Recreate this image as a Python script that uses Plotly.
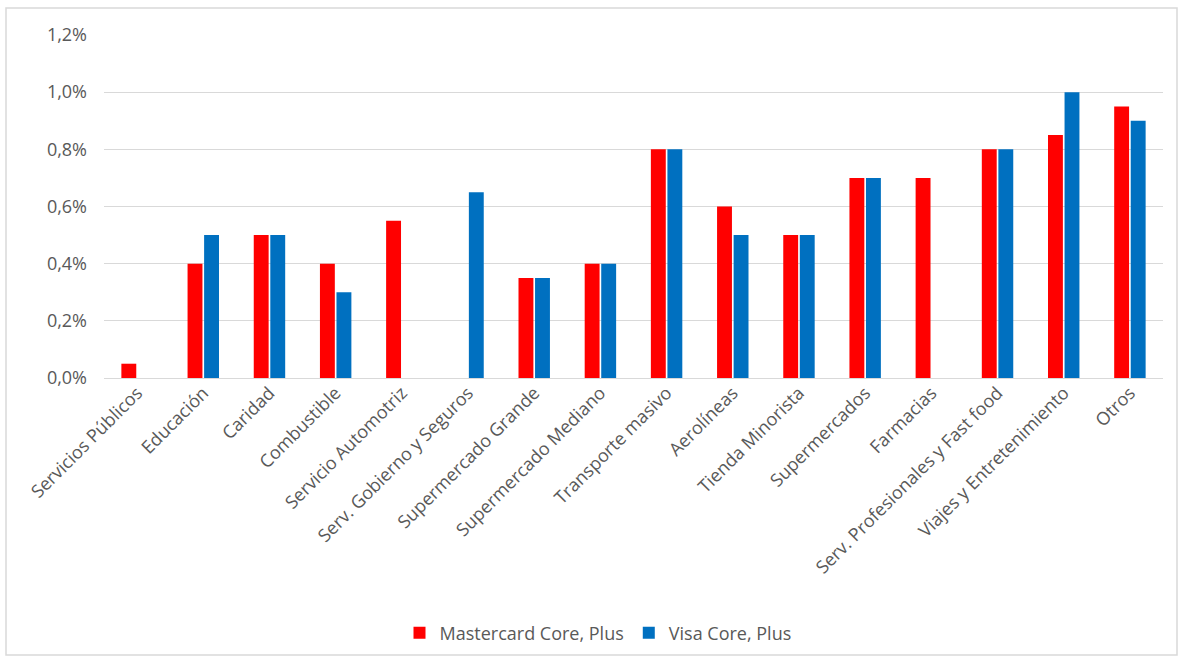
import plotly.graph_objects as go

categories = ["Servicios Públicos", "Educación", "Caridad", "Combustible", "Servicio Automotriz",
              "Serv. Gobierno y Seguros", "Supermercado Grande", "Supermercado Mediano",
              "Transporte masivo", "Aerolíneas", "Tienda Minorista", "Supermercados",
              "Farmacias", "Serv. Profesionales y Fast food", "Viajes y Entretenimiento", "Otros"]
mastercard = [0.05, 0.40, 0.50, 0.40, 0.55, None, 0.35, 0.40, 0.80, 0.60, 0.50, 0.70, 0.70, 0.80, 0.85, 0.95]
visa = [None, 0.50, 0.50, 0.30, None, 0.65, 0.35, 0.40, 0.80, 0.50, 0.50, 0.70, None, 0.80, 1.00, 0.90]
y_ticks = [0.0, 0.2, 0.4, 0.6, 0.8, 1.0, 1.2]
y_tick_labels = ["0,0%", "0,2%", "0,4%", "0,6%", "0,8%", "1,0%", "1,2%"]

FONT = "Open Sans"
GRAY = "#595959"

fig = go.Figure()
fig.add_trace(go.Bar(x=categories, y=mastercard, name="Mastercard Core, Plus",
                     marker=dict(color="#FF0000", line=dict(width=0))))
fig.add_trace(go.Bar(x=categories, y=visa, name="Visa Core, Plus",
                     marker=dict(color="#0070C0", line=dict(width=0))))

W, H = 1182, 663
L, R, T, B = 104, 19, 35, 285
pw, ph = W - L - R, H - T - B

def px(x):
    return (x - L) / pw

def py(y):
    return (H - B - y) / ph

fig.update_layout(
    width=W, height=H,
    margin=dict(l=L, r=R, t=T, b=B),
    paper_bgcolor="white", plot_bgcolor="white",
    barmode="group", bargap=0.5, bargroupgap=0.1,
    font=dict(family=FONT, color=GRAY, size=18),
    showlegend=True,
    legend=dict(orientation="h", x=px(598), xanchor="center", y=py(633), yanchor="middle",
                font=dict(size=18, color=GRAY), itemwidth=30, tracegroupgap=0),
    xaxis=dict(tickangle=-45, showgrid=False, showline=False, ticks="",
               tickfont=dict(size=18, color=GRAY), automargin=False),
    yaxis=dict(range=[0, 1.2], tickvals=y_ticks, ticktext=y_tick_labels,
               showgrid=True, gridcolor="#d9d9d9", gridwidth=1,
               zeroline=True, zerolinecolor="#d9d9d9", zerolinewidth=1,
               showline=False, ticks="", ticklen=0, ticklabelstandoff=16,
               tickfont=dict(size=18, color=GRAY), automargin=False),
    shapes=[dict(type="rect", xref="paper", yref="paper",
                 x0=px(6), x1=px(1177), y0=py(655), y1=py(8),
                 line=dict(color="#d9d9d9", width=1.5), fillcolor="rgba(0,0,0,0)", layer="below")],
)

fig.write_html("out.html")
